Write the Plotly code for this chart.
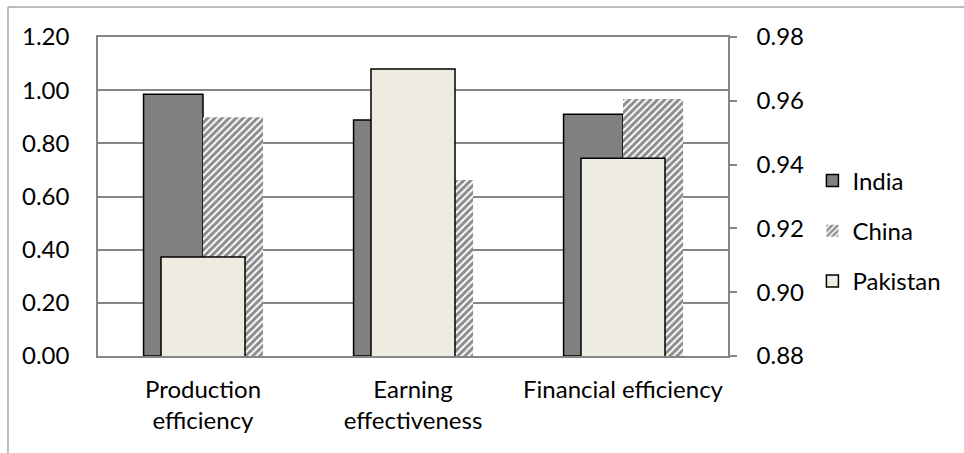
import plotly.graph_objects as go

# Efficiency scores by country
categories = ["Production<br>efficiency", "Earning<br>effectiveness", "Financial efficiency"]
india = [0.985, 0.888, 0.909]
china = [0.898, 0.662, 0.967]
pakistan = [0.911, 0.970, 0.942]   # plotted on the secondary axis

left_ticks = [0.0, 0.2, 0.4, 0.6, 0.8, 1.0, 1.2]
right_ticks = [0.88, 0.90, 0.92, 0.94, 0.96, 0.98]

FONT = "Lato"
FONT_SIZE = 24
AXIS_GREY = "#868686"

fig = go.Figure()

fig.add_trace(go.Bar(
    name="India", x=categories, y=india,
    width=0.283, offset=-0.283,
    marker=dict(color="#808080", line=dict(color="black", width=1.5)),
    legendgroup="india",
))
fig.add_trace(go.Bar(
    name="China", x=categories, y=china,
    width=0.286, offset=0.0,
    marker=dict(
        color="white",
        line=dict(width=0),
        pattern=dict(shape="/", fgcolor="#1a1a1a", bgcolor="white", size=5, solidity=0.6),
    ),
    legendgroup="china",
))
fig.add_trace(go.Bar(
    name="Pakistan", x=categories, y=pakistan,
    width=0.4, offset=-0.2, yaxis="y2",
    marker=dict(color="#EEECE1", line=dict(color="black", width=1.5)),
    legendgroup="pakistan",
))

fig.update_layout(
    width=964, height=453,
    margin=dict(l=98, r=236, t=37, b=97),
    paper_bgcolor="white", plot_bgcolor="white",
    barmode="overlay",
    font=dict(family=FONT, size=FONT_SIZE, color="black"),
    showlegend=True,
    legend=dict(
        x=1.134, y=0.392, xanchor="left", yanchor="middle",
        font=dict(family=FONT, size=FONT_SIZE, color="black"),
        tracegroupgap=16, itemwidth=30,
        bgcolor="rgba(0,0,0,0)",
    ),
    xaxis=dict(
        type="category", range=[-0.5, 2.5],
        showline=True, linecolor=AXIS_GREY, linewidth=1.5, mirror=True,
        showgrid=False, ticks="", ticklabelstandoff=11,
        tickfont=dict(family=FONT, size=FONT_SIZE),
    ),
    yaxis=dict(
        range=[0, 1.2], tickvals=left_ticks, tickformat=".2f",
        showgrid=True, gridcolor=AXIS_GREY, gridwidth=1.5,
        showline=True, linecolor=AXIS_GREY, linewidth=1.5,
        ticks="", ticklabelstandoff=22, zeroline=False,
        tickfont=dict(family=FONT, size=FONT_SIZE),
    ),
    yaxis2=dict(
        range=[0.88, 0.98], tickvals=right_ticks, tickformat=".2f",
        overlaying="y", side="right",
        showgrid=False, zeroline=False,
        showline=True, linecolor=AXIS_GREY, linewidth=1.5,
        ticks="outside", ticklen=7, tickcolor=AXIS_GREY, tickwidth=1.5,
        ticklabelstandoff=15,
        tickfont=dict(family=FONT, size=FONT_SIZE),
    ),
    shapes=[
        # outer chart frame (left and top edges)
        dict(type="line", xref="paper", yref="paper",
             x0=-0.1429, x1=-0.1429, y0=1.094, y1=-0.32,
             line=dict(color="#A6A6A6", width=1.5)),
        dict(type="line", xref="paper", yref="paper",
             x0=-0.1429, x1=1.4, y0=1.094, y1=1.094,
             line=dict(color="#A6A6A6", width=1.5)),
    ],
)

fig.write_html("out.html")
